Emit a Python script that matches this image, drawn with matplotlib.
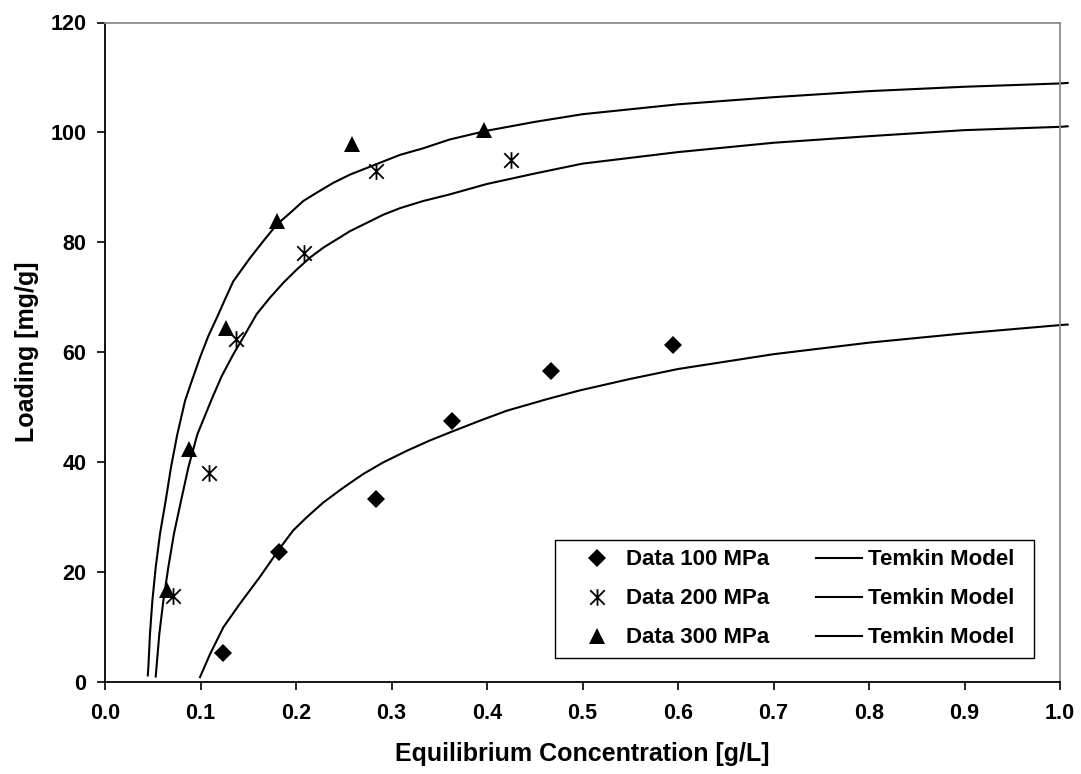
import numpy as np
import matplotlib
matplotlib.use("Agg")
import matplotlib.pyplot as plt
from matplotlib.path import Path
from matplotlib.patches import Rectangle

plt.rcParams['font.family'] = ['Liberation Sans', 'DejaVu Sans']
plt.rcParams['font.weight'] = 'bold'

# measured data (equilibrium conc. [g/L], loading [mg/g])
d100_c = [0.124, 0.182, 0.284, 0.363, 0.467, 0.595]
d100_q = [5.1, 23.5, 33.2, 47.4, 56.6, 61.2]
d200_c = [0.071, 0.109, 0.137, 0.208, 0.284, 0.425]
d200_q = [15.6, 38.0, 62.3, 78.1, 93.0, 94.9]
d300_c = [0.065, 0.088, 0.127, 0.180, 0.259, 0.397]
d300_q = [16.7, 42.3, 64.3, 83.8, 97.8, 100.4]

# Temkin model curves
m100_c = [0.0995, 0.110, 0.124, 0.141, 0.162, 0.1832, 0.197, 0.2112, 0.2286, 0.2496,
          0.2705, 0.2914, 0.3159, 0.3403, 0.3647, 0.3927, 0.4206, 0.4625, 0.497, 0.55,
          0.6, 0.7, 0.8, 0.9, 1.0, 1.008]
m100_q = [0.8, 5.0, 9.9, 14.1, 19.0, 24.3, 27.5, 29.9, 32.6, 35.3,
          37.8, 39.9, 42.0, 43.9, 45.6, 47.5, 49.3, 51.4, 53.0, 55.1,
          56.9, 59.6, 61.7, 63.4, 64.9, 65.0]
m200_c = [0.0531, 0.0569, 0.0611, 0.0663, 0.0722, 0.0796, 0.0873, 0.0967, 0.1117, 0.1222,
          0.1344, 0.1466, 0.1588, 0.1728, 0.1867, 0.2007, 0.2147, 0.2286, 0.2426, 0.2565,
          0.274, 0.2914, 0.309, 0.3333, 0.361, 0.4, 0.45, 0.5, 0.6, 0.7,
          0.8, 0.9, 1.0, 1.008]
m200_q = [0.9, 8.7, 14.7, 20.8, 26.9, 32.9, 39.0, 45.0, 51.4, 55.6,
          59.6, 63.2, 66.9, 69.9, 72.6, 75.0, 77.2, 79.0, 80.5, 82.0,
          83.5, 85.0, 86.2, 87.5, 88.7, 90.6, 92.5, 94.3, 96.4, 98.1,
          99.3, 100.4, 101.0, 101.1]
m300_c = [0.0448, 0.0454, 0.0471, 0.0496, 0.0531, 0.0576, 0.0635, 0.0691, 0.0757, 0.0838,
          0.0908, 0.0995, 0.1082, 0.117, 0.1257, 0.1344, 0.1431, 0.1518, 0.1658, 0.1798,
          0.1937, 0.2077, 0.2216, 0.239, 0.2565, 0.274, 0.2914, 0.309, 0.3333, 0.361,
          0.4, 0.45, 0.5, 0.6, 0.7, 0.8, 0.9, 1.0, 1.008]
m300_q = [1.1, 2.6, 8.7, 14.7, 20.8, 26.9, 32.9, 39.0, 45.0, 51.1,
          54.7, 59.0, 62.9, 66.2, 69.6, 72.9, 75.0, 77.1, 80.2, 83.2,
          85.3, 87.5, 89.0, 90.8, 92.3, 93.5, 94.7, 95.9, 97.1, 98.7,
          100.3, 101.9, 103.3, 105.1, 106.4, 107.5, 108.3, 108.9, 109.0]

xticks = [0.0, 0.1, 0.2, 0.3, 0.4, 0.5, 0.6, 0.7, 0.8, 0.9, 1.0]
yticks = [0, 20, 40, 60, 80, 100, 120]

# excel style star: X with a vertical bar
star = Path([(-1, -1), (1, 1), (-1, 1), (1, -1), (0, -1.15), (0, 1.15)],
            [Path.MOVETO, Path.LINETO, Path.MOVETO, Path.LINETO, Path.MOVETO, Path.LINETO])

W, H = 1081, 774
fig = plt.figure(figsize=(W / 100, H / 100), dpi=100)
ax = fig.add_axes([105 / W, 92.5 / H, 955 / W, 659 / H])

h1, = ax.plot(d100_c, d100_q, 'D', color='black', ms=9.5, mew=0, label='Data 100 MPa')
h2, = ax.plot(d200_c, d200_q, linestyle='none', marker=star, color='black', ms=12,
              mew=1.3, label='Data 200 MPa')
h3, = ax.plot(d300_c, d300_q, '^', color='black', ms=11.5, mew=0, label='Data 300 MPa')
l1, = ax.plot(m100_c, m100_q, '-', color='black', lw=1.5, clip_on=False, label='Temkin Model')
l2, = ax.plot(m200_c, m200_q, '-', color='black', lw=1.5, clip_on=False, label='Temkin Model')
l3, = ax.plot(m300_c, m300_q, '-', color='black', lw=1.5, clip_on=False, label='Temkin Model')

ax.set_xlim(0, 1.0)
ax.set_ylim(0, 120)
ax.set_xticks(xticks)
ax.set_xticklabels(['%.1f' % t for t in xticks])
ax.set_yticks(yticks)
ax.tick_params(axis='both', direction='out', length=5.5, width=1.2, labelsize=15.5, pad=8)
ax.tick_params(axis='x', pad=10)
ax.tick_params(top=False, right=False)

for s in ['left', 'bottom']:
    ax.spines[s].set_color('black')
    ax.spines[s].set_linewidth(1.3)
for s in ['top', 'right']:
    ax.spines[s].set_color('#8c8c8c')
    ax.spines[s].set_linewidth(1.3)

ax.set_xlabel('Equilibrium Concentration [g/L]', fontsize=18, fontweight='bold', labelpad=13)
ax.set_ylabel('Loading [mg/g]', fontsize=18, fontweight='bold', labelpad=8)

leg = ax.legend(handles=[h1, h2, h3, l1, l2, l3], ncol=2, loc='center',
                bbox_to_anchor=(0.722, 0.1252), frameon=False, handlelength=2.07,
                handletextpad=0.27, columnspacing=2.1, labelspacing=0.81,
                borderpad=0.43, borderaxespad=0, prop={'weight': 'bold', 'size': 16})

# frame around the legend, a bit wider than the entries (excel style)
fig.canvas.draw()
bb = leg.get_window_extent()
fig.add_artist(Rectangle(((bb.x0 - 10) / W, bb.y0 / H), (bb.width + 20) / W, bb.height / H,
                         transform=fig.transFigure, fill=False, edgecolor='black', lw=1.0))

fig.savefig('out.png', dpi=100)
